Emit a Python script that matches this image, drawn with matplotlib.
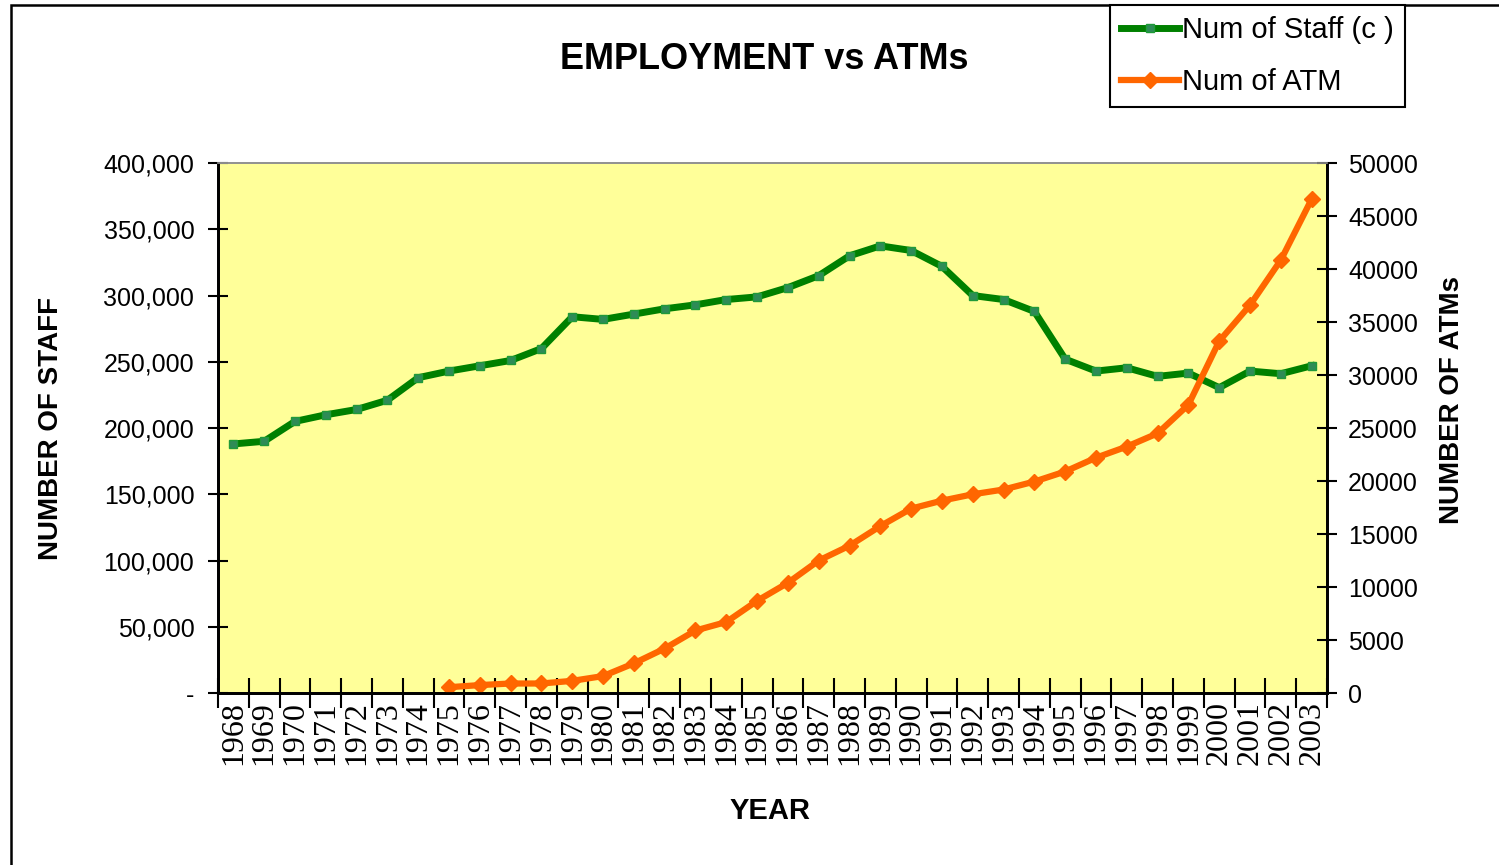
import matplotlib
matplotlib.use("Agg")
import matplotlib.pyplot as plt
from matplotlib.patches import Rectangle
from matplotlib.ticker import FuncFormatter
import numpy as np

years = list(range(1968, 2004))
staff = [188000, 190000, 205000, 210000, 214000, 221000, 238000, 243000,
         247000, 251000, 260000, 284000, 282000, 286000, 290000, 293000,
         297000, 299000, 306000, 315000, 330000, 337500, 334000, 322000,
         300000, 297000, 288000, 252000, 243000, 245500, 239000, 241500,
         230500, 243000, 241000, 247000]
atm_years = list(range(1975, 2004))
atms = [550, 750, 900, 900, 1150, 1600, 2800, 4200, 5900, 6700, 8700,
        10400, 12500, 13900, 15750, 17400, 18150, 18750, 19200, 19950,
        20900, 22200, 23250, 24500, 27200, 33200, 36600, 40850, 46600]

plt.rcParams['font.family'] = ['Liberation Sans', 'DejaVu Sans']

fig = plt.figure(figsize=(14.99, 8.65), dpi=100)
ax = fig.add_axes([0.1454, 0.1988, 0.7399, 0.6127])
ax.set_facecolor('#FFFF99')
ax2 = ax.twinx()

x = np.arange(len(years))
xa = np.array([years.index(y) for y in atm_years])

l1, = ax.plot(x, staff, color='#008000', lw=5, marker='s', ms=6,
              mfc='#2E8B57', mec='#1F9A3A', mew=1, label='Num of Staff (c )')
l2, = ax2.plot(xa, atms, color='#FF6600', lw=4.5, marker='D', ms=8,
               mfc='#FF6600', mec='#FF6600', label='Num of ATM')

ax.set_xlim(-0.5, len(years) - 0.5)
ax.set_ylim(0, 400000)
ax2.set_ylim(0, 50000)
ax.set_yticks(np.arange(0, 400001, 50000))
ax2.set_yticks(np.arange(0, 50001, 5000))
ax.yaxis.set_major_formatter(FuncFormatter(lambda v, p: '-' if v == 0 else f'{int(v):,}'))

ax.set_xticks(x)
ax.set_xticklabels([str(y) for y in years], rotation=90,
                   family=['Liberation Serif', 'DejaVu Serif'], fontsize=23)
ax.set_xticks(np.arange(-0.5, len(years)), minor=True)
ax.tick_params(axis='x', which='major', length=0, pad=6)
ax.tick_params(axis='x', which='minor', direction='inout', length=22, width=1.5)
ax.tick_params(axis='y', direction='inout', length=14, width=1.5, labelsize=18, pad=10)
ax2.tick_params(axis='y', direction='inout', length=14, width=1.5, labelsize=18, pad=8)

for a in (ax, ax2):
    for s in ('left', 'right', 'bottom'):
        a.spines[s].set_linewidth(2)
        a.spines[s].set_color('black')
    a.spines['top'].set_color('#909090')
    a.spines['top'].set_linewidth(1.2)

ax.set_ylabel('NUMBER OF STAFF', fontsize=20, fontweight='bold')
ax.yaxis.set_label_coords(-0.1389, 0.5)
ax2.set_ylabel('NUMBER OF ATMs', fontsize=20, fontweight='bold', rotation=90)
ax2.yaxis.set_label_coords(1.101, 0.553)
ax.set_xlabel('YEAR', fontsize=21, fontweight='bold')
ax.xaxis.set_label_coords(0.498, -0.196)

fig.text(0.5097, 0.931, 'EMPLOYMENT vs ATMs', fontsize=26, fontweight='bold',
         ha='center', va='center')

leg = fig.legend(handles=[l1, l2], loc='upper left', bbox_to_anchor=(0.7405, 0.9942),
                 borderaxespad=0, fontsize=21, handlelength=2.0, handletextpad=0.1,
                 fancybox=False, edgecolor='black', framealpha=1,
                 borderpad=0.38, labelspacing=0.82)
leg.get_frame().set_linewidth(1.5)

fig.patches.append(Rectangle((11 / 1499, -0.1), 1.2, 1.1 - 5 / 865,
                             transform=fig.transFigure, fill=False,
                             edgecolor='black', lw=1.8, zorder=-1))

fig.savefig('out.png', dpi=100)
